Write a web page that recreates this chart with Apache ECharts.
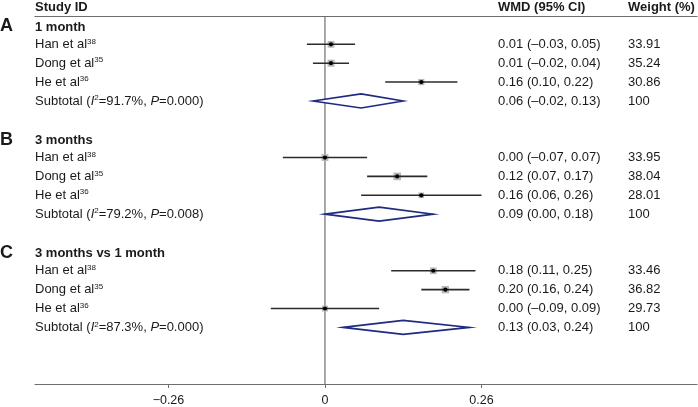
<!DOCTYPE html>
<html><head><meta charset="utf-8">
<script src="https://cdn.jsdelivr.net/npm/echarts@6/dist/echarts.min.js"></script>
<style>html,body{margin:0;padding:0;background:#fff}#c{width:698px;height:407px}</style>
</head><body><div id="c"></div>
<script>
// ---- data ----
const letters = ['A', 'B', 'C'];
const groups = ['1 month', '3 months', '3 months vs 1 month'];
const studies = ['Han et al', 'Dong et al', 'He et al'];
const refs = ['38', '35', '36'];
const estA = [0.01, 0.01, 0.16];
const lowA = [-0.03, -0.02, 0.10];
const highA = [0.05, 0.04, 0.22];
const wA = [33.91, 35.24, 30.86];
const estB = [0.00, 0.12, 0.16];
const lowB = [-0.07, 0.07, 0.06];
const highB = [0.07, 0.17, 0.26];
const wB = [33.95, 38.04, 28.01];
const estC = [0.18, 0.20, 0.00];
const lowC = [0.11, 0.16, -0.09];
const highC = [0.25, 0.24, 0.09];
const wC = [33.46, 36.82, 29.73];
const subEst = [0.06, 0.09, 0.13];
const subLow = [-0.02, 0.00, 0.03];
const subHigh = [0.13, 0.18, 0.24];
const subI2 = ['91.7%', '79.2%', '87.3%'];
const subP = ['0.000', '0.008', '0.000'];
const xTicks = [-0.26, 0, 0.26];
const xTickLabels = ['\u22120.26', '0', '0.26'];

// ---- build rows ----
const fmt = v => (v < 0 ? '\u2013' : '') + Math.abs(v).toFixed(2);
const est = [estA, estB, estC], low = [lowA, lowB, lowC], high = [highA, highB, highC], wts = [wA, wB, wC];
const studyRows = [], subRows = [], textRows = [];
for (let g = 0; g < 3; g++) {
  const base = g * 6;
  textRows.push({row: base, kind: 'group', g});
  for (let i = 0; i < 3; i++) {
    const r = base + 1 + i;
    studyRows.push([est[g][i], low[g][i], high[g][i], wts[g][i], r]);
    textRows.push({row: r, kind: 'study', label: studies[i], ref: refs[i],
      wmd: fmt(est[g][i]) + ' (' + fmt(low[g][i]) + ', ' + fmt(high[g][i]) + ')',
      w: wts[g][i].toFixed(2)});
  }
  const rs = base + 4;
  subRows.push([subEst[g], subLow[g], subHigh[g], rs]);
  textRows.push({row: rs, kind: 'sub', i2: subI2[g], p: subP[g],
    wmd: fmt(subEst[g]) + ' (' + fmt(subLow[g]) + ', ' + fmt(subHigh[g]) + ')', w: '100'});
}
textRows.push({row: -1, kind: 'header'});

const FONT = 'Liberation Sans, Arial, sans-serif';
const TXT = '#1a1a1a';
const FS = 13;
const COL_LABEL = 35, COL_WMD = 498, COL_W = 628, COL_LETTER = 0;
const rich = {
  n: {fontSize: FS, fontFamily: FONT, color: TXT},
  b: {fontSize: FS, fontFamily: FONT, color: TXT, fontWeight: 'bold'},
  i: {fontSize: FS, fontFamily: FONT, color: TXT, fontStyle: 'italic'},
  s: {fontSize: 8, fontFamily: FONT, color: TXT, verticalAlign: 'top', padding: [0, 0, 6, 0]}
};
function txt(x, y, text, extra) {
  return {type: 'text', x: x, y: y, style: Object.assign({text: text, rich: rich, fill: TXT,
    font: FS + 'px ' + FONT, verticalAlign: 'middle', align: 'left'}, extra || {})};
}

const chart = echarts.init(document.getElementById('c'), null, {renderer: 'canvas'});
const XMIN = -0.4817, XMAX = 0.618;
chart.setOption({
  animation: false,
  grid: {left: 35, right: 1, top: 16, bottom: 21},
  xAxis: [{
    type: 'value', min: XMIN, max: XMAX, position: 'bottom',
    splitLine: {show: false},
    axisLine: {show: true, onZero: false, lineStyle: {color: '#6e6e6e', width: 1.2}},
    axisTick: {show: true, customValues: xTicks, length: 4, lineStyle: {color: '#6e6e6e'}},
    axisLabel: {show: true, customValues: xTicks, margin: 10, color: TXT, fontSize: 12.5, fontFamily: FONT,
      formatter: v => { const k = xTicks.findIndex(t => Math.abs(t - v) < 1e-9); return k >= 0 ? xTickLabels[k] : ''; }}
  }, {
    type: 'value', min: XMIN, max: XMAX, position: 'top',
    splitLine: {show: false}, axisTick: {show: false}, axisLabel: {show: false},
    axisLine: {show: true, onZero: false, lineStyle: {color: '#6e6e6e', width: 1.2}}
  }],
  yAxis: {type: 'value', inverse: true, min: -0.5, max: 19, show: false},
  series: [
    {
      type: 'custom', xAxisIndex: 0, data: [[0, 0]], silent: true, clip: false,
      renderItem: (p, api) => {
        const a = api.coord([0, -0.5]), b = api.coord([0, 19]);
        return {type: 'line', shape: {x1: a[0], y1: a[1], x2: b[0], y2: b[1]},
          style: {stroke: '#6e6e6e', lineWidth: 1.2}};
      }
    },
    {
      type: 'custom', data: studyRows, silent: true,
      encode: {x: [0, 1, 2], y: 4},
      renderItem: (p, api) => {
        const e = api.value(0), lo = api.value(1), hi = api.value(2), w = api.value(3), r = api.value(4);
        const c = api.coord([e, r]), a = api.coord([lo, r]), b = api.coord([hi, r]);
        const s = w * 0.2;
        return {type: 'group', children: [
          {type: 'rect', shape: {x: c[0] - s / 2, y: c[1] - s / 2, width: s, height: s}, style: {fill: '#b8b8b8'}},
          {type: 'line', shape: {x1: a[0], y1: a[1], x2: b[0], y2: b[1]}, style: {stroke: '#2b2b2b', lineWidth: 1.6}},
          {type: 'circle', shape: {cx: c[0], cy: c[1], r: 2.1}, style: {fill: '#000'}}
        ]};
      }
    },
    {
      type: 'custom', data: subRows, silent: true,
      encode: {x: [0, 1, 2], y: 3},
      renderItem: (p, api) => {
        const e = api.value(0), lo = api.value(1), hi = api.value(2), r = api.value(3);
        const c = api.coord([e, r]), a = api.coord([lo, r]), b = api.coord([hi, r]);
        const h = 7;
        return {type: 'polygon', shape: {points: [[a[0], a[1]], [c[0], c[1] - h], [b[0], b[1]], [c[0], c[1] + h]]},
          style: {fill: '#fff', stroke: '#1f2b7e', lineWidth: 1.6}};
      }
    },
    {
      type: 'custom', data: textRows.map(t => [0, t.row]), silent: true, clip: false,
      renderItem: (p, api) => {
        const t = textRows[p.dataIndex];
        const y = api.coord([0, t.row])[1];
        if (t.kind === 'header') {
          return {type: 'group', children: [
            txt(COL_LABEL, y + 1, '{b|Study ID}'),
            txt(COL_WMD, y + 1, '{b|WMD (95% CI)}'),
            txt(COL_W, y + 1, '{b|Weight (%)}')
          ]};
        }
        if (t.kind === 'group') {
          return {type: 'group', children: [
            txt(COL_LETTER, y + 1, letters[t.g], {font: 'bold 18px ' + FONT, rich: null, text: letters[t.g]}),
            txt(COL_LABEL, y + 2, '{b|' + groups[t.g] + '}')
          ]};
        }
        if (t.kind === 'study') {
          return {type: 'group', children: [
            txt(COL_LABEL, y, '{n|' + t.label + '}{s|' + t.ref + '}'),
            txt(COL_WMD, y, '{n|' + t.wmd + '}'),
            txt(COL_W, y, '{n|' + t.w + '}')
          ]};
        }
        return {type: 'group', children: [
          txt(COL_LABEL, y, '{n|Subtotal (}{i|I}{s|2}{n|=' + t.i2 + ', }{i|P}{n|=' + t.p + ')}'),
          txt(COL_WMD, y, '{n|' + t.wmd + '}'),
          txt(COL_W, y, '{n|' + t.w + '}')
        ]};
      }
    }
  ]
});
</script>
</body></html>
